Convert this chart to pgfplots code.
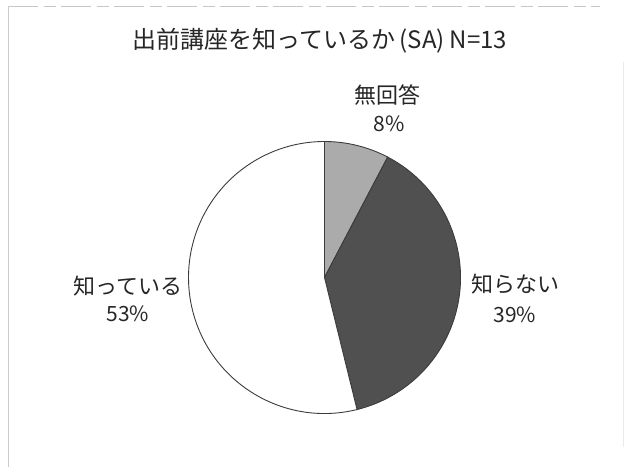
\documentclass[border=0pt]{standalone}
\usepackage{pgfplots}
\pgfplotsset{compat=1.18}
\usepackage{pgfplotstable}
\usepackage{fontspec}
\newfontfamily\cjk{Noto Sans CJK JP}
\definecolor{txt}{HTML}{262626}
\definecolor{sliceA}{HTML}{ABABAB}
\definecolor{sliceB}{HTML}{505050}
\definecolor{sliceC}{HTML}{FFFFFF}
\definecolor{edge}{HTML}{3C3C3C}
% counts (N=13): 無回答, 知らない, 知っている
\pgfplotstableread{
cat count
1 1
2 5
3 7
}\piedata
\begin{document}
\begin{tikzpicture}
\begin{axis}[
  scale only axis, width=627pt, height=467pt,
  xmin=0, xmax=627, ymin=0, ymax=467,
  hide axis, clip=false,
]
\coordinate (ll) at (axis cs:0,0);
\coordinate (ur) at (axis cs:627,467);
\pgfplotstablegetelem{0}{count}\of\piedata \let\cA\pgfplotsretval
\pgfplotstablegetelem{1}{count}\of\piedata \let\cB\pgfplotsretval
\pgfplotstablegetelem{2}{count}\of\piedata \let\cC\pgfplotsretval
\pgfmathsetmacro\tot{\cA+\cB+\cC}
\pgfmathsetmacro\aA{90-360*\cA/\tot}
\pgfmathsetmacro\aB{\aA-360*\cB/\tot}
\pgfmathsetmacro\aC{\aB-360*\cC/\tot}
% scan frame
\draw[black!20, line width=1pt] (axis cs:8,0) -- (axis cs:8,460);
\draw[black!8, line width=1pt] (axis cs:623,20) -- (axis cs:623,405);
\draw[black!22, line width=1pt, dash pattern=on 30pt off 6pt on 12pt off 5pt] (axis cs:8,460) -- (axis cs:600,460);
% slices
\filldraw[fill=sliceA, draw=edge, line width=0.9pt] (axis cs:324.5,189.5) -- ++(90:136pt) arc[start angle=90, end angle=\aA, radius=136pt] -- cycle;
\filldraw[fill=sliceB, draw=edge, line width=0.9pt] (axis cs:324.5,189.5) -- ++(\aA:136pt) arc[start angle=\aA, end angle=\aB, radius=136pt] -- cycle;
\filldraw[fill=sliceC, draw=edge, line width=0.9pt] (axis cs:324.5,189.5) -- ++(\aB:136pt) arc[start angle=\aB, end angle=\aC, radius=136pt] -- cycle;
% texts
\node[txt, font=\cjk\fontsize{24}{28}\selectfont] at (axis cs:320,426) {出前講座を知っているか\hspace{4pt}(SA)\hspace{5pt}N=13};
\node[txt, font=\cjk\fontsize{22}{26}\selectfont] at (axis cs:387,372) {無回答};
\node[txt, font=\cjk\fontsize{21}{24}\selectfont] at (axis cs:389,343) {8\%};
\node[txt, font=\cjk\fontsize{22}{26}\selectfont] at (axis cs:515,183) {知らない};
\node[txt, font=\cjk\fontsize{21}{24}\selectfont] at (axis cs:515,152) {39\%};
\node[txt, font=\cjk\fontsize{22}{26}\selectfont] at (axis cs:128,181) {知っている};
\node[txt, font=\cjk\fontsize{21}{24}\selectfont] at (axis cs:128,153) {53\%};
\end{axis}
\pgfresetboundingbox
\path[use as bounding box] (ll) rectangle (ur);
\end{tikzpicture}
\end{document}
